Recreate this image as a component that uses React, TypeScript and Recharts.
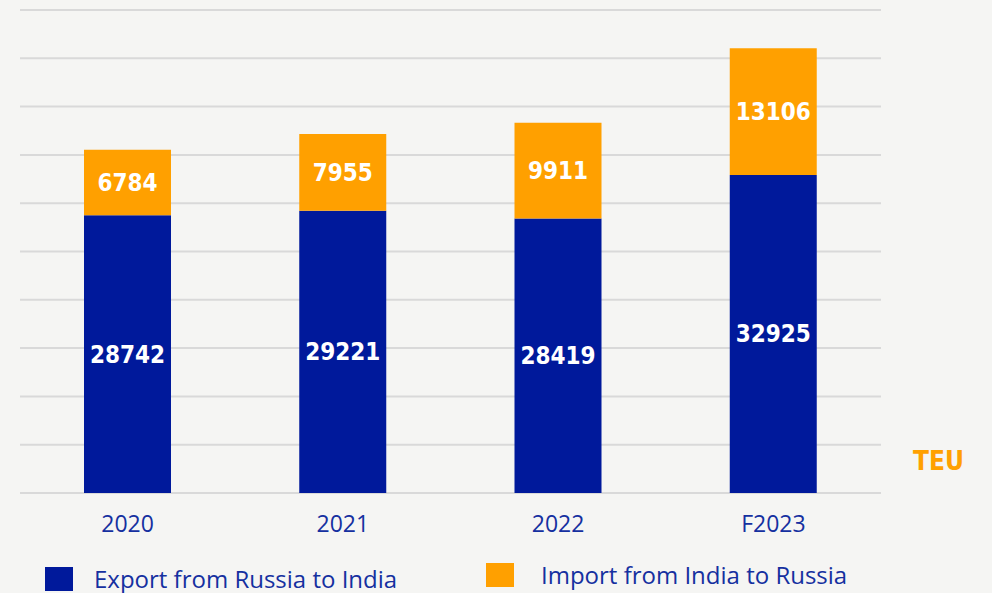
import React from 'react';
import { BarChart, Bar, XAxis, YAxis, CartesianGrid, LabelList } from 'recharts';

const years = ['2020', '2021', '2022', 'F2023'];
const exportTeu = [28742, 29221, 28419, 32925];
const importTeu = [6784, 7955, 9911, 13106];
const yTicks = [0, 5000, 10000, 15000, 20000, 25000, 30000, 35000, 40000, 45000, 50000];

const BLUE = '#00199b';
const ORANGE = '#ffa000';
const TEXT_BLUE = '#1530a0';
const BG = '#f5f5f3';

const data = years.map((year, i) => ({
  year,
  exportTeu: exportTeu[i],
  importTeu: importTeu[i],
}));

const valueFont = {
  fontFamily: '"DejaVu Sans Condensed", "DejaVu Sans", sans-serif',
  fontStretch: 'condensed',
  fontWeight: 700,
  fontSize: 24,
};

function YearTick(props: any) {
  const { x, y, payload } = props;
  return (
    <text
      x={x}
      y={y}
      dy={31}
      textAnchor="middle"
      fill={TEXT_BLUE}
      style={{ fontFamily: '"Open Sans", sans-serif', fontSize: 23 }}
    >
      {payload.value}
    </text>
  );
}

function LegendItem({ color, label, left, top, gap }: { color: string; label: string; left: number; top: number; gap: number }) {
  return (
    <div style={{ position: 'absolute', left, top, display: 'flex', alignItems: 'center' }}>
      <div style={{ width: 28, height: 24, background: color }} />
      <span
        style={{
          marginLeft: gap,
          color: TEXT_BLUE,
          fontFamily: '"Open Sans", sans-serif',
          fontSize: 24,
          lineHeight: '24px',
          whiteSpace: 'nowrap',
        }}
      >
        {label}
      </span>
    </div>
  );
}

export default function App() {
  return (
    <div style={{ position: 'fixed', left: 0, top: 0, width: 992, height: 593, background: BG, overflow: 'hidden' }}>
      <BarChart
        width={992}
        height={593}
        data={data}
        margin={{ top: 10, right: 111, left: 20, bottom: 0 }}
        barSize={87}
      >
        <CartesianGrid vertical={false} stroke="#d9d9d9" strokeWidth={2} />
        <YAxis hide domain={[0, 50000]} ticks={yTicks} />
        <XAxis dataKey="year" height={100} axisLine={false} tickLine={false} tick={<YearTick />} interval={0} />
        <Bar dataKey="exportTeu" stackId="a" fill={BLUE} isAnimationActive={false}>
          <LabelList dataKey="exportTeu" position="center" fill="#ffffff" style={valueFont} />
        </Bar>
        <Bar dataKey="importTeu" stackId="a" fill={ORANGE} isAnimationActive={false}>
          <LabelList dataKey="importTeu" position="center" fill="#ffffff" style={valueFont} />
        </Bar>
      </BarChart>
      <div
        style={{
          position: 'absolute',
          left: 913,
          top: 446,
          color: ORANGE,
          fontFamily: '"DejaVu Sans Condensed", "DejaVu Sans", sans-serif',
          fontStretch: 'condensed',
          fontWeight: 700,
          fontSize: 26,
        }}
      >
        TEU
      </div>
      <LegendItem color={BLUE} label="Export from Russia to India" left={45} top={567} gap={21} />
      <LegendItem color={ORANGE} label="Import from India to Russia" left={486} top={563} gap={27} />
    </div>
  );
}
